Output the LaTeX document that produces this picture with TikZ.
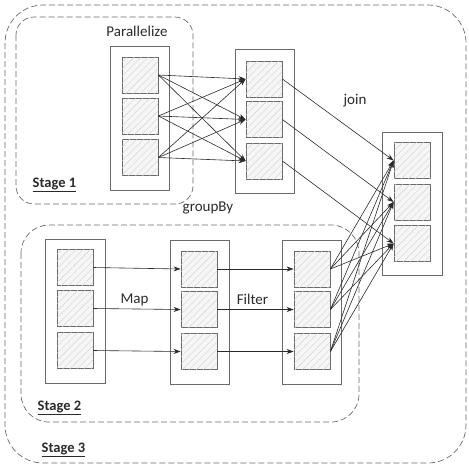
\documentclass[tikz,border=0pt]{standalone}
\usepackage{fontspec}
\setmainfont{Carlito}
\usetikzlibrary{patterns.meta,arrows.meta}
\definecolor{edge}{HTML}{6A6A6A}
\definecolor{ink}{HTML}{2A2A2A}
\tikzset{
  container/.style={draw=edge, line width=0.8pt, minimum width=59pt, minimum height=144pt, inner sep=0pt},
  part/.style={draw=edge, line width=0.8pt, fill=gray!7, minimum width=36pt, minimum height=36pt, inner sep=0pt,
    postaction={pattern={Lines[angle=45,distance=5pt,line width=0.4pt]}, pattern color=gray!35}},
  stagebox/.style={draw=edge, dashed, dash pattern=on 6pt off 3pt, line width=0.7pt},
  link/.style={draw=ink, line width=0.6pt, -{Stealth[length=7pt,width=5pt]}},
  lbl/.style={font=\fontsize{15}{17}\selectfont, text=ink, inner sep=0pt},
  stagelbl/.style={font=\bfseries\fontsize{14.5}{16}\selectfont, text=ink, inner sep=0pt},
}
\begin{document}
\begin{tikzpicture}[x=1pt,y=-1pt]
\useasboundingbox (0,0) rectangle (469,467);
% stage regions
\draw[stagebox, rounded corners=38pt] (5,5) rectangle (466,463);
\draw[stagebox, rounded corners=18pt] (16,17) rectangle (193,204);
\draw[stagebox, rounded corners=28pt] (21,225) rectangle (359,422);
% containers
\node[container] (pc) at (139.5,118) {};
\node[container] (gc) at (264.5,121) {};
\node[container, minimum width=60pt, minimum height=143pt] (jc) at (412,203.5) {};
\node[container, minimum width=60pt] (ac) at (75,311) {};
\node[container] (bc) at (199.5,312) {};
\node[container] (cc) at (311.5,312) {};
% parts
\node[part] (p1) at (140,75) {};
\node[part] (p2) at (140,116) {};
\node[part] (p3) at (140,157.5) {};
\node[part] (g1) at (264,79) {};
\node[part] (g2) at (264,119.5) {};
\node[part] (g3) at (264,161) {};
\node[part] (j1) at (412,160.5) {};
\node[part] (j2) at (412,202) {};
\node[part] (j3) at (412,243.5) {};
\node[part] (a1) at (75,267.5) {};
\node[part] (a2) at (75,308.5) {};
\node[part] (a3) at (75,350.5) {};
\node[part] (b1) at (199,269) {};
\node[part] (b2) at (199,309.5) {};
\node[part] (b3) at (199,351.5) {};
\node[part] (c1) at (312,269) {};
\node[part] (c2) at (312,309.5) {};
\node[part] (c3) at (312,351.5) {};
% connectors
\foreach \i in {1,2,3}{
  \foreach \j in {1,2,3}{
    \draw[link] (p\i.east) -- (g\j.west);
    \draw[link] (c\i.east) -- (j\j.west);
  }
  \draw[link] (g\i.east) -- (j\i.west);
  \draw[link] (a\i.east) -- (b\i.west);
  \draw[link] (b\i.east) -- (c\i.west);
}
% labels
\node[lbl] (tpar) at (137,31) {Parallelize};
\node[lbl] (tgrp) at (208,208) {groupBy};
\node[lbl] (tjoin) at (355,101) {join};
\node[lbl] (tmap) at (134.5,300) {Map};
\node[lbl] (tfil) at (252.5,299) {Filter};
\node[stagelbl] (s1) at (54.5,185) {\underline{Stage 1}};
\node[stagelbl] (s2) at (59.5,408) {\underline{Stage 2}};
\node[stagelbl] (s3) at (63.5,450) {\underline{Stage 3}};
\end{tikzpicture}
\end{document}
